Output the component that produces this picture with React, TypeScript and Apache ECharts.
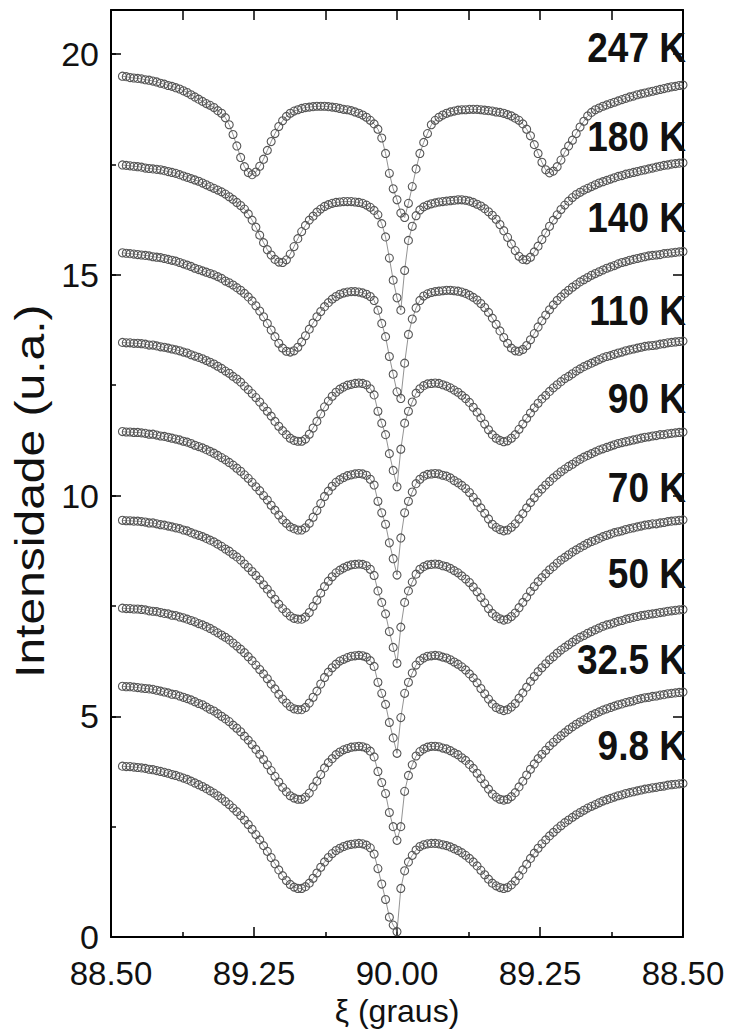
import React, { useEffect, useRef } from "react";
import * as echarts from "echarts";

// Angular offset from 90.00° of the first sample, and sampling step (degrees)
const ANGLE_START = -1.44;
const ANGLE_STEP = 0.02;

// Axis scale: offset from 90° shown as a mirrored angle
const X_MIN = -1.5;
const X_MAX = 1.5;
const X_INTERVAL = 0.75;
const X_TICK_LABELS = ["88.50", "89.25", "90.00", "89.25", "88.50"];
const Y_MIN = 0;
const Y_MAX = 21;
const Y_INTERVAL = 5;

const TEMPERATURES = ["247 K", "180 K", "140 K", "110 K", "90 K", "70 K", "50 K", "32.5 K", "9.8 K"];
const LABEL_LEVELS = [20.15, 18.15, 16.3, 14.2, 12.2, 10.2, 8.25, 6.3, 4.35];

const I_247K = [
  19.5, 19.49, 19.47, 19.46, 19.45, 19.44, 19.42, 19.41, 19.39, 19.37,
  19.34, 19.32, 19.29, 19.27, 19.24, 19.21, 19.17, 19.13, 19.08, 19.03,
  18.98, 18.93, 18.88, 18.84, 18.79, 18.72, 18.66, 18.56, 18.4, 18.18,
  17.92, 17.66, 17.45, 17.32, 17.27, 17.33, 17.46, 17.62, 17.82, 18.02,
  18.2, 18.36, 18.49, 18.59, 18.66, 18.71, 18.74, 18.77, 18.79, 18.8,
  18.81, 18.82, 18.82, 18.82, 18.81, 18.8, 18.79, 18.77, 18.75, 18.74,
  18.72, 18.69, 18.66, 18.62, 18.57, 18.5, 18.42, 18.3, 18.1, 17.75,
  17.3, 16.95, 16.7, 16.4, 16.3, 16.62, 17.0, 17.4, 17.75, 18.0,
  18.2, 18.4, 18.5, 18.57, 18.62, 18.66, 18.69, 18.71, 18.73, 18.74,
  18.74, 18.75, 18.75, 18.75, 18.74, 18.73, 18.72, 18.71, 18.69, 18.68,
  18.66, 18.63, 18.6, 18.55, 18.5, 18.42, 18.3, 18.15, 17.95, 17.75,
  17.55, 17.38, 17.31, 17.35, 17.45, 17.6, 17.78, 17.92, 18.05, 18.2,
  18.35, 18.48, 18.6, 18.68, 18.74, 18.78, 18.82, 18.85, 18.88, 18.91,
  18.94, 18.97, 19.0, 19.03, 19.05, 19.08, 19.1, 19.12, 19.14, 19.16,
  19.18, 19.2, 19.22, 19.24, 19.26, 19.27, 19.29, 19.3,
];

const I_180K = [
  17.49, 17.48, 17.47, 17.46, 17.45, 17.44, 17.42, 17.41, 17.4, 17.39,
  17.38, 17.36, 17.34, 17.32, 17.3, 17.27, 17.24, 17.21, 17.18, 17.15,
  17.12, 17.08, 17.04, 17.0, 16.96, 16.92, 16.88, 16.83, 16.77, 16.71,
  16.64, 16.57, 16.49, 16.38, 16.24, 16.08, 15.9, 15.73, 15.57, 15.45,
  15.35, 15.29, 15.28, 15.34, 15.47, 15.64, 15.82, 15.98, 16.12, 16.24,
  16.33, 16.42, 16.49, 16.55, 16.59, 16.62, 16.64, 16.65, 16.66, 16.66,
  16.66, 16.65, 16.64, 16.62, 16.58, 16.53, 16.46, 16.36, 16.16, 15.86,
  15.38, 14.88, 14.48, 14.2, 15.1, 15.78, 16.1, 16.34, 16.47, 16.54,
  16.58, 16.61, 16.63, 16.65, 16.66, 16.67, 16.68, 16.69, 16.7, 16.7,
  16.69, 16.67, 16.64, 16.6, 16.56, 16.5, 16.43, 16.35, 16.26, 16.14,
  16.0, 15.85, 15.7, 15.55, 15.42, 15.35, 15.34, 15.4, 15.52, 15.65,
  15.8, 15.95, 16.1, 16.24, 16.36, 16.48, 16.58, 16.67, 16.75, 16.82,
  16.87, 16.92, 16.96, 17.0, 17.04, 17.08, 17.11, 17.14, 17.17, 17.2,
  17.23, 17.25, 17.28, 17.3, 17.32, 17.34, 17.36, 17.38, 17.4, 17.42,
  17.44, 17.46, 17.48, 17.49, 17.51, 17.52, 17.53, 17.54,
];

const I_140K = [
  15.5, 15.49, 15.48, 15.47, 15.46, 15.45, 15.44, 15.43, 15.41, 15.4,
  15.39, 15.37, 15.35, 15.33, 15.31, 15.28, 15.25, 15.22, 15.19, 15.15,
  15.12, 15.09, 15.06, 15.03, 15.0, 14.96, 14.92, 14.86, 14.82, 14.77,
  14.71, 14.65, 14.58, 14.5, 14.41, 14.3, 14.18, 14.05, 13.9, 13.75,
  13.6, 13.45, 13.34, 13.27, 13.25, 13.28, 13.36, 13.48, 13.62, 13.77,
  13.91, 14.05, 14.17, 14.28, 14.37, 14.45, 14.51, 14.56, 14.59, 14.61,
  14.62, 14.62, 14.61, 14.59, 14.56, 14.51, 14.42, 14.2, 13.9, 13.6,
  13.15, 12.75, 12.35, 12.2, 13.0, 13.65, 14.0, 14.25, 14.42, 14.52,
  14.57, 14.6, 14.62, 14.63, 14.64, 14.65, 14.65, 14.64, 14.63, 14.61,
  14.58, 14.54, 14.49, 14.43, 14.35, 14.26, 14.15, 14.02, 13.88, 13.73,
  13.58, 13.45, 13.34, 13.28, 13.27, 13.31, 13.4, 13.53, 13.67, 13.82,
  13.96, 14.09, 14.21, 14.32, 14.42, 14.5, 14.58, 14.65, 14.72, 14.78,
  14.84, 14.89, 14.94, 14.99, 15.03, 15.07, 15.11, 15.15, 15.18, 15.21,
  15.25, 15.28, 15.3, 15.33, 15.35, 15.37, 15.39, 15.41, 15.43, 15.44,
  15.45, 15.46, 15.48, 15.49, 15.5, 15.51, 15.52, 15.53,
];

const I_110K = [
  13.47, 13.46, 13.46, 13.45, 13.45, 13.44, 13.43, 13.41, 13.41, 13.39,
  13.37, 13.36, 13.34, 13.32, 13.3, 13.28, 13.25, 13.23, 13.19, 13.16,
  13.13, 13.1, 13.06, 13.02, 12.98, 12.93, 12.88, 12.82, 12.77, 12.7,
  12.64, 12.57, 12.48, 12.4, 12.31, 12.22, 12.12, 12.01, 11.91, 11.8,
  11.68, 11.57, 11.47, 11.38, 11.3, 11.25, 11.23,
  11.23, 11.28, 11.39, 11.53, 11.68, 11.85, 12.01, 12.14, 12.25, 12.34,
  12.41, 12.46, 12.5, 12.52, 12.54,
  12.55, 12.54, 12.51, 12.42, 12.28, 11.91, 11.64, 11.38, 10.95, 10.57,
  10.2, 11.05, 11.64, 11.91, 12.12, 12.32, 12.42, 12.49, 12.53, 12.54, 12.55,
  12.54, 12.51, 12.48, 12.44, 12.39, 12.34, 12.27, 12.2, 12.11, 12.0,
  11.89, 11.76, 11.62, 11.49, 11.38, 11.3, 11.25,
  11.22, 11.24, 11.3, 11.38, 11.5, 11.62, 11.75, 11.87, 11.99, 12.09,
  12.19, 12.27, 12.36, 12.44, 12.51, 12.58, 12.65, 12.7, 12.76, 12.82,
  12.87, 12.92, 12.96, 13.0, 13.04, 13.08, 13.12, 13.15, 13.17, 13.2,
  13.23, 13.25, 13.28, 13.3, 13.32, 13.34, 13.36, 13.38, 13.39, 13.4,
  13.41, 13.43, 13.44, 13.46, 13.47, 13.48, 13.49, 13.5,
];

const I_90K = [
  11.45, 11.44, 11.44, 11.43, 11.43, 11.42, 11.41, 11.39, 11.39, 11.37,
  11.35, 11.34, 11.32, 11.3, 11.28, 11.26, 11.23, 11.21, 11.18, 11.14,
  11.11, 11.08, 11.04, 11.0, 10.96, 10.91, 10.86, 10.81, 10.75, 10.69,
  10.62, 10.55, 10.47, 10.39, 10.3, 10.2, 10.11, 10.0, 9.9, 9.78,
  9.67, 9.56, 9.45, 9.37, 9.29, 9.25, 9.22,
  9.22, 9.27, 9.37, 9.51, 9.66, 9.82, 9.98, 10.1, 10.21, 10.3,
  10.36, 10.41, 10.45, 10.47, 10.49,
  10.5, 10.49, 10.46, 10.37, 10.24, 9.87, 9.61, 9.35, 8.93, 8.57,
  8.2, 9.04, 9.61, 9.87, 10.08, 10.27, 10.37, 10.44, 10.48, 10.49, 10.5,
  10.49, 10.46, 10.44, 10.4, 10.34, 10.29, 10.23, 10.16, 10.07, 9.96,
  9.85, 9.72, 9.6, 9.47, 9.35, 9.28, 9.23,
  9.2, 9.22, 9.28, 9.36, 9.47, 9.59, 9.72, 9.84, 9.95, 10.06,
  10.15, 10.24, 10.32, 10.4, 10.47, 10.54, 10.6, 10.66, 10.71, 10.77,
  10.82, 10.87, 10.91, 10.95, 10.99, 11.03, 11.06, 11.09, 11.12, 11.15,
  11.18, 11.2, 11.22, 11.24, 11.26, 11.28, 11.3, 11.32, 11.33, 11.35,
  11.36, 11.38, 11.38, 11.4, 11.41, 11.42, 11.43, 11.44,
];

const I_70K = [
  9.44, 9.43, 9.43, 9.42, 9.42, 9.41, 9.4, 9.38, 9.38, 9.36,
  9.34, 9.33, 9.31, 9.29, 9.27, 9.25, 9.22, 9.2, 9.16, 9.13,
  9.1, 9.07, 9.03, 8.99, 8.95, 8.9, 8.85, 8.79, 8.74, 8.67,
  8.61, 8.54, 8.45, 8.37, 8.28, 8.19, 8.09, 7.98, 7.88, 7.77,
  7.65, 7.54, 7.44, 7.35, 7.27, 7.22, 7.2,
  7.2, 7.25, 7.35, 7.49, 7.63, 7.79, 7.94, 8.06, 8.16, 8.25,
  8.31, 8.36, 8.4, 8.43, 8.44,
  8.45, 8.44, 8.41, 8.33, 8.19, 7.84, 7.58, 7.32, 6.92, 6.56,
  6.2, 7.02, 7.58, 7.84, 8.04, 8.22, 8.33, 8.39, 8.43, 8.44, 8.45,
  8.44, 8.41, 8.39, 8.35, 8.3, 8.25, 8.18, 8.11, 8.03, 7.93,
  7.82, 7.69, 7.57, 7.44, 7.33, 7.26, 7.21,
  7.18, 7.2, 7.26, 7.34, 7.46, 7.58, 7.7, 7.83, 7.94, 8.05,
  8.14, 8.23, 8.32, 8.39, 8.47, 8.54, 8.6, 8.66, 8.72, 8.77,
  8.82, 8.87, 8.92, 8.96, 8.99, 9.03, 9.07, 9.1, 9.13, 9.16,
  9.18, 9.2, 9.23, 9.25, 9.27, 9.29, 9.31, 9.33, 9.34, 9.36,
  9.36, 9.38, 9.39, 9.41, 9.42, 9.43, 9.44, 9.45,
];

const I_50K = [
  7.45, 7.44, 7.44, 7.43, 7.43, 7.42, 7.41, 7.39, 7.38, 7.37,
  7.35, 7.33, 7.32, 7.29, 7.28, 7.25, 7.23, 7.2, 7.17, 7.14,
  7.1, 7.07, 7.03, 6.99, 6.94, 6.89, 6.84, 6.79, 6.73, 6.66,
  6.59, 6.52, 6.44, 6.35, 6.26, 6.16, 6.06, 5.96, 5.85, 5.73,
  5.62, 5.5, 5.39, 5.3, 5.22, 5.17, 5.15,
  5.15, 5.2, 5.3, 5.43, 5.57, 5.73, 5.88, 6.0, 6.1, 6.18,
  6.25, 6.29, 6.33, 6.36, 6.37,
  6.38, 6.37, 6.34, 6.26, 6.13, 5.77, 5.52, 5.27, 4.86, 4.51,
  4.16, 4.97, 5.52, 5.77, 5.98, 6.16, 6.26, 6.32, 6.36, 6.37, 6.38,
  6.37, 6.34, 6.32, 6.28, 6.23, 6.18, 6.12, 6.05, 5.96, 5.87,
  5.76, 5.63, 5.51, 5.39, 5.28, 5.2, 5.16,
  5.13, 5.15, 5.21, 5.29, 5.41, 5.53, 5.66, 5.79, 5.9, 6.01,
  6.1, 6.19, 6.28, 6.35, 6.43, 6.5, 6.56, 6.62, 6.68, 6.74,
  6.79, 6.83, 6.88, 6.92, 6.96, 7.0, 7.04, 7.07, 7.09, 7.12,
  7.15, 7.17, 7.2, 7.22, 7.24, 7.26, 7.28, 7.29, 7.31, 7.32,
  7.33, 7.35, 7.36, 7.38, 7.39, 7.4, 7.41, 7.42,
];

const I_32K = [
  5.68, 5.67, 5.67, 5.66, 5.65, 5.64, 5.63, 5.62, 5.61, 5.59,
  5.57, 5.55, 5.53, 5.5, 5.49, 5.46, 5.43, 5.4, 5.37, 5.33,
  5.29, 5.26, 5.21, 5.16, 5.12, 5.06, 5.0, 4.94, 4.88, 4.8,
  4.73, 4.65, 4.55, 4.46, 4.36, 4.25, 4.14, 4.02, 3.9, 3.77,
  3.64, 3.51, 3.39, 3.29, 3.2, 3.15, 3.12,
  3.12, 3.17, 3.26, 3.4, 3.53, 3.68, 3.83, 3.95, 4.04, 4.13,
  4.19, 4.24, 4.27, 4.3, 4.31,
  4.32, 4.31, 4.28, 4.21, 4.08, 3.75, 3.5, 3.25, 2.82, 2.5,
  2.19, 2.5, 3.3, 3.66, 3.9, 4.1, 4.2, 4.26, 4.3, 4.32, 4.32,
  4.31, 4.28, 4.26, 4.22, 4.17, 4.13, 4.06, 4.0, 3.91, 3.82,
  3.71, 3.59, 3.47, 3.35, 3.24, 3.17, 3.12,
  3.1, 3.12, 3.18, 3.27, 3.4, 3.53, 3.67, 3.8, 3.92, 4.04,
  4.14, 4.23, 4.33, 4.41, 4.49, 4.56, 4.63, 4.7, 4.76, 4.82,
  4.87, 4.92, 4.97, 5.02, 5.06, 5.1, 5.14, 5.17, 5.2, 5.23,
  5.26, 5.28, 5.31, 5.33, 5.35, 5.38, 5.4, 5.42, 5.43, 5.45,
  5.46, 5.48, 5.49, 5.51, 5.52, 5.53, 5.54, 5.55,
];

const I_10K = [
  3.87, 3.86, 3.86, 3.85, 3.84, 3.83, 3.82, 3.8, 3.79, 3.77,
  3.75, 3.73, 3.71, 3.68, 3.66, 3.63, 3.6, 3.57, 3.53, 3.49,
  3.45, 3.41, 3.36, 3.31, 3.26, 3.2, 3.14, 3.07, 3.0, 2.92,
  2.84, 2.75, 2.65, 2.55, 2.44, 2.32, 2.2, 2.07, 1.94, 1.8,
  1.66, 1.52, 1.39, 1.28, 1.19, 1.13, 1.1, 1.1, 1.14, 1.22,
  1.33, 1.45, 1.58, 1.7, 1.8, 1.89, 1.96, 2.01, 2.05, 2.08,
  2.1, 2.11, 2.12, 2.11, 2.08, 2.02, 1.88, 1.55, 1.2, 0.85,
  0.45, 0.27, 0.12, 1.1, 1.5, 1.7, 1.85, 1.97, 2.05, 2.09,
  2.11, 2.12, 2.12, 2.11, 2.09, 2.07, 2.04, 2.0, 1.96, 1.91,
  1.85, 1.78, 1.7, 1.61, 1.51, 1.41, 1.31, 1.22, 1.16, 1.12,
  1.1, 1.12, 1.18, 1.27, 1.39, 1.52, 1.65, 1.78, 1.9, 2.01,
  2.11, 2.2, 2.29, 2.37, 2.45, 2.52, 2.59, 2.65, 2.71, 2.77,
  2.82, 2.87, 2.92, 2.96, 3.0, 3.04, 3.08, 3.11, 3.14, 3.17,
  3.2, 3.22, 3.25, 3.27, 3.29, 3.31, 3.33, 3.35, 3.36, 3.38,
  3.39, 3.41, 3.42, 3.44, 3.45, 3.46, 3.47, 3.48,
];

const CURVES = [I_247K, I_180K, I_140K, I_110K, I_90K, I_70K, I_50K, I_32K, I_10K];

const FONT = '"Liberation Sans", Arial, Helvetica, sans-serif';
const INK = "#111";

const frameLine = { show: true, onZero: false, lineStyle: { color: "#000", width: 2 } };
const hiddenSplit = { show: false };

export default function App() {
  const ref = useRef<HTMLDivElement>(null);

  useEffect(() => {
    if (!ref.current) return;
    const chart = echarts.init(ref.current, undefined, { renderer: "svg" });

    const series = CURVES.map((values, k) => ({
      name: TEMPERATURES[k],
      type: "line",
      xAxisIndex: 0,
      yAxisIndex: 0,
      data: values.map((v, i) => [+(ANGLE_START + i * ANGLE_STEP).toFixed(3), v]),
      symbol: "circle",
      symbolSize: 8,
      showSymbol: true,
      showAllSymbol: true,
      silent: true,
      itemStyle: { color: "rgba(255,255,255,0)", borderColor: "#555", borderWidth: 1.1 },
      lineStyle: { color: "#777", width: 0.8 },
      emphasis: { disabled: true },
      z: 3,
    }));

    chart.setOption({
      animation: false,
      backgroundColor: "#fff",
      grid: { left: 111, right: 47, top: 10, bottom: 93, containLabel: false },
      xAxis: [
        {
          type: "value",
          position: "bottom",
          min: X_MIN,
          max: X_MAX,
          interval: X_INTERVAL,
          axisLine: frameLine,
          axisTick: { show: true, inside: true, length: 10, lineStyle: { color: "#000", width: 1.5 } },
          minorTick: { show: true, splitNumber: 2, length: 5, lineStyle: { color: "#000", width: 1.5 } },
          splitLine: hiddenSplit,
          minorSplitLine: hiddenSplit,
          axisLabel: {
            formatter: (v: number) => X_TICK_LABELS[Math.round((v - X_MIN) / X_INTERVAL)] ?? "",
            fontSize: 33,
            color: INK,
            margin: 20,
            fontFamily: FONT,
          },
          name: "ξ (graus)",
          nameLocation: "middle",
          nameGap: 58,
          nameTextStyle: { fontSize: 32, color: INK, fontFamily: FONT },
        },
        {
          type: "value",
          position: "top",
          min: X_MIN,
          max: X_MAX,
          interval: X_INTERVAL / 2,
          axisLine: frameLine,
          axisTick: { show: true, inside: true, length: 10, lineStyle: { color: "#000", width: 1.5 } },
          axisLabel: { show: false },
          splitLine: hiddenSplit,
        },
      ],
      yAxis: [
        {
          type: "value",
          position: "left",
          min: Y_MIN,
          max: Y_MAX,
          interval: Y_INTERVAL,
          axisLine: frameLine,
          axisTick: { show: true, inside: true, length: 10, lineStyle: { color: "#000", width: 1.5 } },
          splitLine: hiddenSplit,
          axisLabel: { fontSize: 34, color: INK, margin: 12, fontFamily: FONT, showMaxLabel: false },
        },
        {
          type: "value",
          position: "left",
          min: Y_MIN,
          max: Y_MAX,
          interval: Y_INTERVAL / 2,
          axisLine: { show: false, onZero: false },
          axisTick: { show: true, inside: true, length: 5, lineStyle: { color: "#000", width: 1.5 } },
          axisLabel: { show: false },
          splitLine: hiddenSplit,
        },
        {
          type: "value",
          position: "right",
          min: Y_MIN,
          max: Y_MAX,
          interval: Y_INTERVAL,
          axisLine: frameLine,
          axisTick: { show: true, inside: true, length: 10, lineStyle: { color: "#000", width: 1.5 } },
          axisLabel: { show: false },
          splitLine: hiddenSplit,
        },
      ],
      series,
    });

    // Temperature tags, right-aligned against the right frame above each curve
    const tags = TEMPERATURES.map((t, k) => {
      const [px, py] = chart.convertToPixel({ xAxisIndex: 0, yAxisIndex: 0 }, [X_MAX, LABEL_LEVELS[k]]);
      return {
        type: "text",
        x: px + 3,
        y: py,
        scaleY: 1.15,
        z: 10,
        silent: true,
        style: {
          text: t,
          textAlign: "right",
          textVerticalAlign: "middle",
          font: `bold 37px ${FONT}`,
          fill: INK,
        },
      };
    });

    // Vertical axis title, centred on the plot height
    const [, yMid] = chart.convertToPixel({ xAxisIndex: 0, yAxisIndex: 0 }, [X_MIN, (Y_MIN + Y_MAX) / 2 - 0.4]);
    const yTitle = {
      type: "text",
      x: 30,
      y: yMid,
      rotation: Math.PI / 2,
      scaleX: 1.2,
      silent: true,
      style: {
        text: "Intensidade (u.a.)",
        textAlign: "center",
        textVerticalAlign: "middle",
        font: `40px ${FONT}`,
        fill: INK,
      },
    };

    chart.setOption({ graphic: [...tags, yTitle] });

    return () => chart.dispose();
  }, []);

  return (
    <div
      ref={ref}
      style={{ position: "absolute", left: 0, top: 0, width: 730, height: 1032, background: "#fff" }}
    />
  );
}
